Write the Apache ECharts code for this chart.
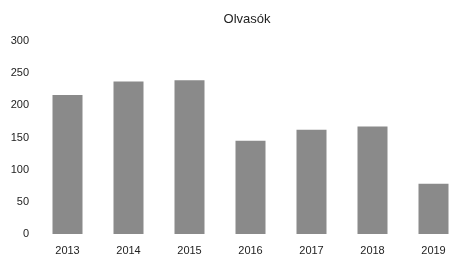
<!DOCTYPE html>
<html>
<head>
<meta charset="utf-8">
<script src="https://cdn.jsdelivr.net/npm/echarts@6/dist/echarts.min.js"></script>
<style>
  html, body { margin: 0; padding: 0; background: #fff; }
  #chart { width: 464px; height: 256px; }
</style>
</head>
<body>
<div id="chart"></div>
<script>
// évek és olvasók száma
const years = ['2013', '2014', '2015', '2016', '2017', '2018', '2019'];
const readers = [216, 237, 239, 145, 162, 167, 78];
const yTicks = [0, 50, 100, 150, 200, 250, 300];

const myChart = echarts.init(document.getElementById('chart'));

let option = {
  animation: false,
  title: {
    text: 'Olvasók',
    left: 242,
    textAlign: 'center',
    top: 8,
    textStyle: {
      fontFamily: 'Liberation Sans',
      fontSize: 13,
      fontWeight: 'normal',
      color: '#222'
    }
  },
  grid: {
    left: 37,
    right: 0,
    top: 41,
    bottom: 22
  },
  xAxis: {
    type: 'category',
    data: years,
    axisLine: { show: false },
    axisTick: { show: false },
    axisLabel: {
      margin: 11,
      fontFamily: 'Liberation Sans',
      fontSize: 11,
      color: '#222'
    }
  },
  yAxis: {
    type: 'value',
    min: yTicks[0],
    max: yTicks[yTicks.length - 1],
    interval: 50,
    splitLine: { show: false },
    axisLabel: {
      margin: 8,
      fontFamily: 'Liberation Sans',
      fontSize: 11,
      color: '#222'
    }
  },
  series: [
    {
      type: 'bar',
      data: readers,
      barWidth: 30,
      itemStyle: { color: '#8a8a8a' }
    }
  ]
};

myChart.setOption(option);
</script>
</body>
</html>
